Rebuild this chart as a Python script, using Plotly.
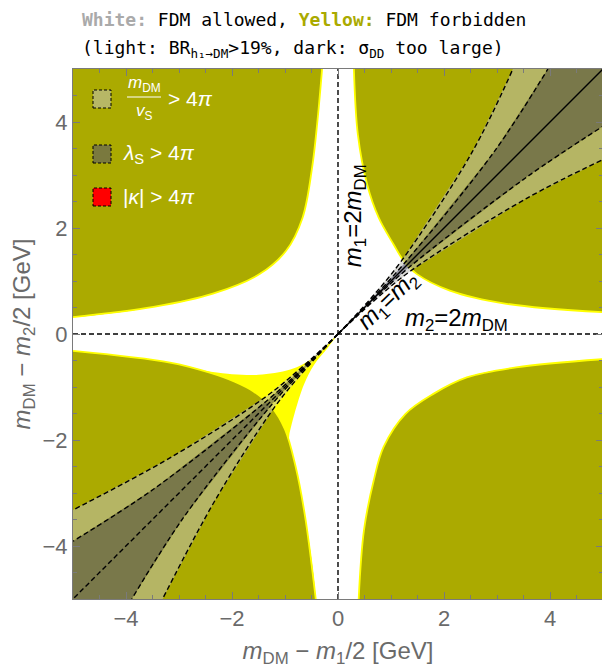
import plotly.graph_objects as go

# ---------------- data ----------------
# olive ("FDM forbidden") region boundaries, one per quadrant
q2_x = [-0.30, -0.39, -0.49, -0.67, -0.98, -1.48, -2.36, -3.48, -5.0]
q2_y = [5.0, 4.0, 3.13, 2.19, 1.57, 1.13, 0.76, 0.51, 0.32]
q4_x = [0.39, 0.49, 0.675, 0.86, 1.27, 1.80, 2.43, 3.36, 5.0]
q4_y = [-5.0, -3.70, -2.76, -2.13, -1.51, -1.13, -0.82, -0.63, -0.475]
q1_x = [0.30, 0.375, 0.55, 0.77, 1.05, 1.24, 1.49, 2.11, 3.18, 5.0]
q1_y = [5.0, 3.76, 2.82, 2.19, 1.69, 1.38, 1.13, 0.82, 0.57, 0.41]
q3_x = [-5.0, -3.17, -2.42, -1.95, -1.60, -1.25, -1.0, -0.80, -0.62, -0.42]
q3_y = [-0.32, -0.54, -0.73, -0.90, -1.08, -1.38, -1.80, -2.50, -3.45, -5.0]

# light-yellow cusp region near the origin (third quadrant)
yel_x = [-2.9, -2.0, -1.5, -0.9, -0.5, -0.23, 0.0, -0.20, -0.45, -0.64, -0.82, -0.91, -0.96, -1.6]
yel_y = [-0.70, -0.76, -0.77, -0.67, -0.47, -0.23, 0.0, -0.27, -0.58, -0.95, -1.50, -1.85, -2.05, -1.6]

# band boundaries, first quadrant (outer = light band, inner = dark band)
b1_out_up_x = [0, 0.60, 1.19, 2.53, 3.30]
b1_out_up_y = [0, 0.65, 1.37, 3.43, 5.0]
b1_in_up_x = [0, 0.62, 1.24, 2.94, 3.96]
b1_in_up_y = [0, 0.64, 1.32, 3.43, 5.0]
b1_in_lo_x = [0, 0.64, 1.32, 3.56, 5.0]
b1_in_lo_y = [0, 0.62, 1.24, 2.96, 3.92]
b1_out_lo_x = [0, 0.65, 1.37, 3.56, 5.0]
b1_out_lo_y = [0, 0.60, 1.19, 2.56, 3.29]
# band boundaries, third quadrant
b3_out_a_x = [0, -0.65, -1.37, -3.14, -5.0]
b3_out_a_y = [0, -0.60, -1.19, -2.32, -3.32]
b3_in_a_x = [0, -0.64, -1.32, -3.47, -5.0]
b3_in_a_y = [0, -0.62, -1.24, -2.92, -3.91]
b3_in_b_x = [0, -0.62, -1.24, -2.92, -3.89]
b3_in_b_y = [0, -0.64, -1.32, -3.47, -5.0]
b3_out_b_x = [0, -0.60, -1.19, -2.32, -3.31]
b3_out_b_y = [0, -0.65, -1.37, -3.14, -5.0]
diag1 = [0, 5]
diag3 = [0, -5]

tick_vals = [-4, -2, 0, 2, 4]
AX_MIN, AX_MAX = -5, 5

# ---------------- styles ----------------
OLIVE = "rgb(171,170,0)"
YELLOW = "rgb(255,255,0)"
LIGHT = "rgba(189,189,182,0.55)"
DARK = "rgba(94,94,114,0.65)"
LIGHT_SW = "rgb(183,183,102)"
DARK_SW = "rgb(122,121,62)"
GRAY = "#6a6a6a"
FR = "#7a7a7a"

OFF = 8                      # page (body) margin of the html file
L, R, T, B = 73, 7, 69, 73   # absolute pixel position of the plot frame
W, H = 610 - OFF, 672 - OFF
PW, PH = 610 - L - R, 672 - T - B


def px(x):
    return (x - L) / PW


def py(y):
    return (672 - B - y) / PH


fig = go.Figure()


def poly(xs, ys, color, shape="linear"):
    fig.add_trace(go.Scatter(x=xs, y=ys, mode="lines", fill="toself", fillcolor=color,
                             line=dict(width=0, shape=shape), hoverinfo="skip", showlegend=False))


def line(xs, ys, color="black", width=1.4, dash=None, shape="linear"):
    fig.add_trace(go.Scatter(x=xs, y=ys, mode="lines",
                             line=dict(color=color, width=width, dash=dash, shape=shape),
                             hoverinfo="skip", showlegend=False))


def closed_region(xs, ys, cx, cy):
    """close a boundary curve (edge to edge) through the outside corner (cx, cy)"""
    ex, ey = xs[-1], ys[-1]
    sx, sy = xs[0], ys[0]
    out = []
    out.append((cx, ey) if abs(ex) >= AX_MAX else (ex, cy))
    out.append((cx, cy))
    out.append((cx, sy) if abs(sx) >= AX_MAX else (sx, cy))
    return xs + [p[0] for p in out], ys + [p[1] for p in out]


# yellow cusp region
poly(yel_x + [yel_x[0]], yel_y + [yel_y[0]], YELLOW, "spline")

# olive regions with their yellow rims
E = 6.0
for xs, ys, cx, cy in [(q2_x, q2_y, -E, E), (q4_x, q4_y, E, -E),
                       (q1_x, q1_y, E, E), (q3_x, q3_y, -E, -E)]:
    rx, ry = closed_region(xs, ys, cx, cy)
    poly(rx, ry, OLIVE, "spline")
for xs, ys in [(q2_x, q2_y), (q4_x, q4_y), (q1_x, q1_y), (q3_x, q3_y)]:
    line(xs, ys, YELLOW, 1.8, shape="spline")


# bands
def band(ax, ay, bx, by, color):
    poly(ax + bx[::-1], ay + by[::-1], color)


band(b1_out_up_x + [AX_MAX], b1_out_up_y + [AX_MAX], b1_in_up_x + [AX_MAX], b1_in_up_y + [AX_MAX], LIGHT)
band(b1_in_up_x + [AX_MAX], b1_in_up_y + [AX_MAX], b1_in_lo_x, b1_in_lo_y, DARK)
band(b1_in_lo_x, b1_in_lo_y, b1_out_lo_x, b1_out_lo_y, LIGHT)
band(b3_out_a_x, b3_out_a_y, b3_in_a_x, b3_in_a_y, LIGHT)
band(b3_in_a_x + [AX_MIN], b3_in_a_y + [AX_MIN], b3_in_b_x, b3_in_b_y, DARK)
band(b3_in_b_x, b3_in_b_y, b3_out_b_x, b3_out_b_y, LIGHT)

DASH = "5px,3px"
for xs, ys in [(b1_out_up_x, b1_out_up_y), (b1_in_up_x, b1_in_up_y),
               (b1_in_lo_x, b1_in_lo_y), (b1_out_lo_x, b1_out_lo_y),
               (b3_out_a_x, b3_out_a_y), (b3_in_a_x, b3_in_a_y),
               (b3_in_b_x, b3_in_b_y), (b3_out_b_x, b3_out_b_y)]:
    line(xs, ys, dash=DASH, shape="spline")
line(diag1, diag1)
line(diag3, diag3, dash=DASH)

# m1 = 2 mDM and m2 = 2 mDM lines
line([0, 0], [AX_MIN, AX_MAX], dash=DASH)
line([AX_MIN, AX_MAX], [0, 0], dash=DASH)

FONT = "Liberation Sans, Arial, sans-serif"
BLK = dict(family=FONT, size=24, color="black")
ann = []
ann.append(dict(x=0.30, y=2.24, xref="x", yref="y", text="<i>m</i><sub>1</sub>=2<i>m</i><sub>DM</sub>",
                textangle=-90, showarrow=False, xanchor="center", yanchor="middle", font=BLK))
ann.append(dict(x=2.23, y=0.27, xref="x", yref="y", text="<i>m</i><sub>2</sub>=2<i>m</i><sub>DM</sub>",
                showarrow=False, xanchor="center", yanchor="middle", font=BLK))
ann.append(dict(x=0.96, y=0.63, xref="x", yref="y", text="<i>m</i><sub>1</sub>=<i>m</i><sub>2</sub>",
                textangle=-44, showarrow=False, xanchor="center", yanchor="middle", font=BLK))

# title
MONO = "DejaVu Sans Mono, monospace"
ann.append(dict(x=px(80), y=py(19), xref="paper", yref="paper", xanchor="left", yanchor="middle",
                text='<b><span style="color:#aaaaaa">White:</span></b> FDM allowed, '
                     '<b><span style="color:#aaaa00">Yellow:</span></b> FDM forbidden',
                showarrow=False, font=dict(family=MONO, size=18, color="black")))
ann.append(dict(x=px(80), y=py(49), xref="paper", yref="paper", xanchor="left", yanchor="middle",
                text="(light: BR<sub>h₁→DM</sub>&gt;19%, dark: σ<sub>DD</sub> too large)",
                showarrow=False, font=dict(family=MONO, size=18, color="black")))

# legend (drawn manually)
shapes = []
for (y0, y1, col) in [(90, 108, LIGHT_SW), (145, 163, DARK_SW), (188, 206, "rgb(255,0,0)")]:
    shapes.append(dict(type="rect", xref="paper", yref="paper", x0=px(93), x1=px(111),
                       y0=py(y1), y1=py(y0), fillcolor=col,
                       line=dict(color="black", width=1, dash="3px,2px")))
shapes.append(dict(type="line", xref="paper", yref="paper", x0=px(127), x1=px(161),
                   y0=py(97), y1=py(97), line=dict(color="white", width=1.2)))
WF = dict(family=FONT, color="white")
ann.append(dict(x=px(144), y=py(97), xref="paper", yref="paper", text="<i>m</i><sub>DM</sub>",
                xanchor="center", yanchor="bottom", showarrow=False, font=dict(size=17, **WF)))
ann.append(dict(x=px(144), y=py(99), xref="paper", yref="paper", text="<i>v</i><sub>S</sub>",
                xanchor="center", yanchor="top", showarrow=False, font=dict(size=17, **WF)))
ann.append(dict(x=px(166), y=py(98), xref="paper", yref="paper", xanchor="left", yanchor="middle",
                text="&gt; 4<i>π</i>", showarrow=False, font=dict(size=21, **WF)))
ann.append(dict(x=px(121), y=py(154), xref="paper", yref="paper", xanchor="left", yanchor="middle",
                text="<i>λ</i><sub>S</sub> &gt; 4<i>π</i>", showarrow=False, font=dict(size=21, **WF)))
ann.append(dict(x=px(121), y=py(197), xref="paper", yref="paper", xanchor="left", yanchor="middle",
                text="|<i>κ</i>| &gt; 4<i>π</i>", showarrow=False, font=dict(size=21, **WF)))

axis_common = dict(range=[AX_MIN, AX_MAX], showgrid=False, zeroline=False, showline=True,
                   linecolor=FR, linewidth=1, mirror="ticks", ticks="inside", ticklen=7,
                   tickcolor=FR, tickwidth=1, tickvals=tick_vals,
                   minor=dict(dtick=0.5, tick0=0, ticks="inside", ticklen=4, tickcolor=FR, showgrid=False),
                   tickfont=dict(family=FONT, size=22, color=GRAY))

fig.update_layout(
    width=W, height=H, margin=dict(l=L - OFF, r=R, t=T - OFF, b=B),
    plot_bgcolor="white", paper_bgcolor="white",
    xaxis=dict(**axis_common,
               title=dict(text="<i>m</i><sub>DM</sub> − <i>m</i><sub>1</sub>/2 [GeV]",
                          font=dict(family=FONT, size=24, color=GRAY), standoff=11)),
    yaxis=dict(**axis_common,
               title=dict(text="<i>m</i><sub>DM</sub> − <i>m</i><sub>2</sub>/2 [GeV]",
                          font=dict(family=FONT, size=24, color=GRAY), standoff=7)),
    annotations=ann, shapes=shapes,
)

fig.write_html("out.html")
